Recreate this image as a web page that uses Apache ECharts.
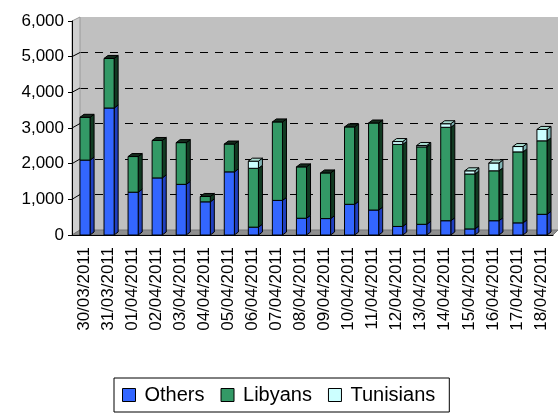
<!DOCTYPE html>
<html>
<head>
<meta charset="utf-8">
<script src="https://cdn.jsdelivr.net/npm/echarts@6/dist/echarts.min.js"></script>
<style>
  html, body { margin: 0; padding: 0; background: #fff; }
  #chart-container { width: 558px; height: 416px; }
</style>
</head>
<body>
<div id="chart-container"></div>
<script>
var dates = ['30/03/2011', '31/03/2011', '01/04/2011', '02/04/2011', '03/04/2011', '04/04/2011',
  '05/04/2011', '06/04/2011', '07/04/2011', '08/04/2011', '09/04/2011', '10/04/2011',
  '11/04/2011', '12/04/2011', '13/04/2011', '14/04/2011', '15/04/2011', '16/04/2011',
  '17/04/2011', '18/04/2011'];
var others    = [2100, 3560, 1200, 1600, 1420, 930, 1770, 220, 970, 470, 460, 860, 700, 240, 300, 400, 170, 400, 340, 580];
var libyans   = [1200, 1390, 1000, 1050, 1170, 150, 780, 1650, 2200, 1440, 1280, 2170, 2440, 2300, 2170, 2620, 1540, 1400, 1990, 2060];
var tunisians = [0, 0, 0, 0, 0, 0, 0, 200, 0, 0, 0, 0, 0, 80, 40, 100, 90, 220, 150, 320];
var yTicks = [0, 1000, 2000, 3000, 4000, 5000, 6000];

var font = '"Liberation Sans", Arial, sans-serif';
var dom = document.getElementById('chart-container');
var myChart = echarts.init(dom, null, { renderer: 'canvas' });

var seriesDefs = [
  { name: 'Others', values: others, front: '#3366ff', side: '#1f3fbf', top: '#2a4ad8' },
  { name: 'Libyans', values: libyans, front: '#339966', side: '#113a22', top: '#142a1c' },
  { name: 'Tunisians', values: tunisians, front: '#ccffff', side: '#7fb3b3', top: '#a8dcd0' }
];

// stack data: [index, low, high, isTop]
var stacked = seriesDefs.map(function () { return []; });
dates.forEach(function (d, i) {
  var base = 0;
  var lastNonZero = -1;
  seriesDefs.forEach(function (s, k) { if (s.values[i] > 0) lastNonZero = k; });
  seriesDefs.forEach(function (s, k) {
    var v = s.values[i];
    stacked[k].push([i, base, base + v, k === lastNonZero ? 1 : 0]);
    base += v;
  });
});

var DX = 4, DY = 3;
function makeRender(def) {
  return function (params, api) {
    var i = api.value(0), lo = api.value(1), hi = api.value(2), isTop = api.value(3);
    if (hi - lo <= 0) return;
    var p0 = api.coord([i, lo]);
    var p1 = api.coord([i, hi]);
    var w = api.size([1, 0])[0] * 0.42;
    var x0 = p0[0] - w / 2 + 1, x1 = x0 + w;
    var yb = p0[1], yt = p1[1];
    var line = { stroke: '#000', lineWidth: 1 };
    var children = [
      { type: 'polygon', shape: { points: [[x1, yb], [x1 + DX, yb - DY], [x1 + DX, yt - DY], [x1, yt]] },
        style: Object.assign({ fill: def.side }, line) },
      { type: 'rect', shape: { x: x0, y: yt, width: w, height: yb - yt },
        style: Object.assign({ fill: def.front }, line) }
    ];
    if (isTop) {
      children.push({ type: 'polygon', shape: { points: [[x0, yt], [x0 + DX, yt - DY], [x1 + DX, yt - DY], [x1, yt]] },
        style: Object.assign({ fill: def.top }, line) });
    }
    return { type: 'group', children: children };
  };
}

var option = {
  animation: false,
  backgroundColor: '#fff',
  textStyle: { fontFamily: font },
  legend: {
    left: 114, top: 378,
    padding: [7, 14, 7, 8],
    borderColor: '#000', borderWidth: 1,
    itemWidth: 13, itemHeight: 13, itemGap: 16,
    textStyle: { fontFamily: font, fontSize: 20, color: '#000', padding: [0, 0, 0, 4] },
    data: seriesDefs.map(function (s) {
      return { name: s.name, icon: 'rect', itemStyle: { color: s.front, borderColor: '#000', borderWidth: 1 } };
    })
  },
  grid: [
    { left: 72, right: 5, top: 21, bottom: 181 },
    { left: 80, right: 0, top: 17, bottom: 186, show: true, backgroundColor: '#c0c0c0', borderWidth: 0 }
  ],
  xAxis: [
    {
      type: 'category', gridIndex: 0, data: dates, z: 5,
      axisLine: { lineStyle: { color: '#000', width: 1 } },
      axisTick: { length: 5, lineStyle: { color: '#000' } },
      axisLabel: { rotate: 90, fontFamily: font, fontSize: 17, color: '#000', margin: 12, interval: 0 }
    },
    { type: 'value', gridIndex: 1, show: false, min: 0, max: 1 }
  ],
  yAxis: [
    {
      type: 'value', gridIndex: 0, min: 0, max: 6000, interval: 1000, z: 5,
      axisLine: { show: true, lineStyle: { color: '#000', width: 1 } },
      axisTick: { show: true, length: 4, lineStyle: { color: '#000' } },
      splitLine: { show: false },
      axisLabel: {
        fontFamily: font, fontSize: 17, color: '#000', margin: 8,
        formatter: function (v) { return v.toLocaleString('en-US'); }
      }
    },
    {
      type: 'value', gridIndex: 1, min: 0, max: 6000, interval: 1000,
      axisLine: { show: false }, axisTick: { show: false }, axisLabel: { show: false },
      splitLine: { show: true, showMinLine: false, showMaxLine: false,
        lineStyle: { color: '#000', width: 1, type: [8, 7] } }
    }
  ],
  series: seriesDefs.map(function (s, k) {
    return {
      name: s.name,
      type: 'custom',
      xAxisIndex: 0, yAxisIndex: 0,
      z: 3,
      itemStyle: { color: s.front, borderColor: '#000', borderWidth: 1 },
      encode: { x: 0, y: [1, 2] },
      renderItem: makeRender(s),
      data: stacked[k]
    };
  })
};

myChart.setOption(option);

// side wall, floor and diagonal gridline ends (decoration of the 3D box)
var g = [];
var fx = 72, bx = 80;
var yf = function (v) { return myChart.convertToPixel({ yAxisIndex: 0 }, v); };
var yb = function (v) { return myChart.convertToPixel({ yAxisIndex: 1 }, v); };
g.push({ type: 'polygon', z: 1, shape: { points: [[fx, yf(6000)], [bx, yb(6000)], [bx, yb(0)], [fx, yf(0)]] },
  style: { fill: '#cfcfcf', stroke: '#9a9a9a', lineWidth: 1 } });
g.push({ type: 'polygon', z: 1, shape: { points: [[fx, yf(0)], [bx, yb(0)], [558, yb(0)], [553, yf(0)]] },
  style: { fill: '#8f8f8f', stroke: '#777', lineWidth: 1 } });
yTicks.forEach(function (v) {
  if (v === 0 || v === 6000) return;
  g.push({ type: 'line', z: 1, shape: { x1: fx, y1: yf(v), x2: bx, y2: yb(v) },
    style: { stroke: '#000', lineWidth: 1 } });
});
myChart.setOption({ graphic: g });

window.addEventListener('resize', myChart.resize);
</script>
</body>
</html>
